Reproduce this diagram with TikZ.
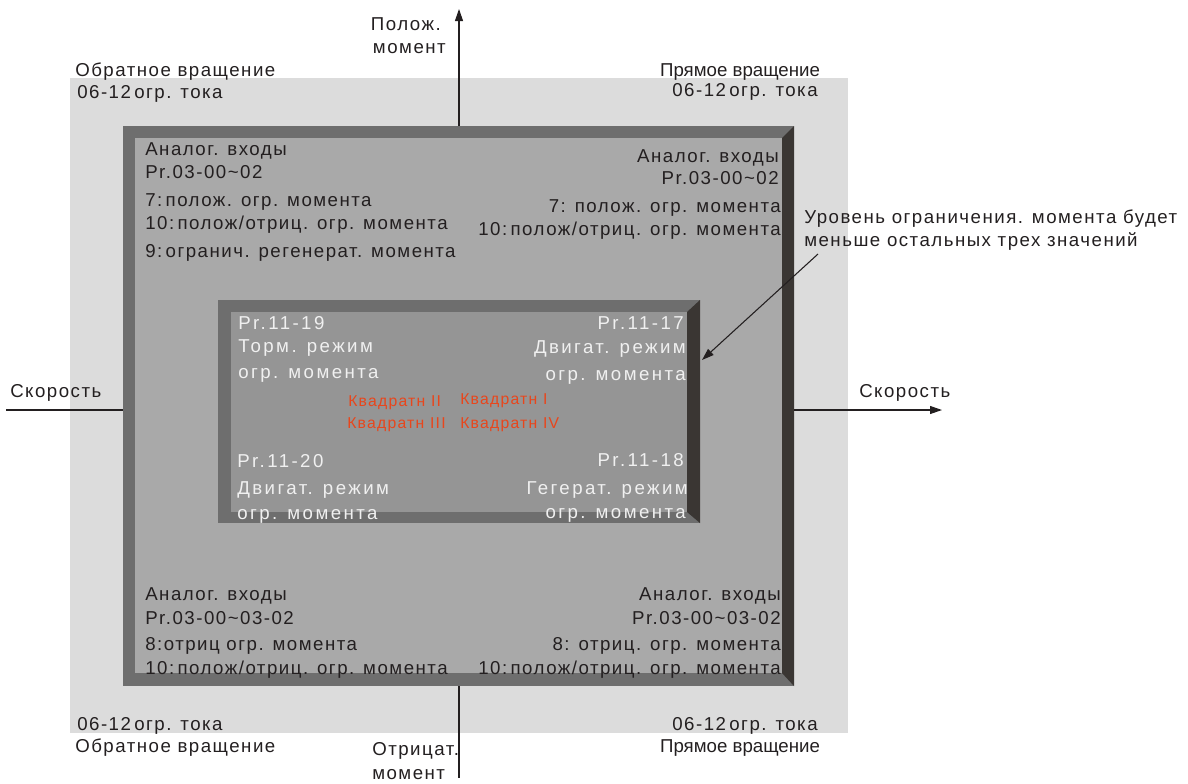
\documentclass[tikz,border=0pt]{standalone}
\usepackage{fontspec}
\setmainfont{Liberation Sans}[LetterSpace=8]
\usetikzlibrary{arrows.meta}
\definecolor{txt}{HTML}{231F20}
\definecolor{bglight}{HTML}{DCDCDC}
\definecolor{faceA}{HTML}{A9A9A9}
\definecolor{faceB}{HTML}{959595}
\definecolor{bevel}{HTML}{6E6E6E}
\definecolor{bevdark}{HTML}{3A3633}
\definecolor{quad}{HTML}{E8461C}
\tikzset{
  lbl/.style={inner sep=0pt, text=txt, font=\fontsize{14}{16}\selectfont},
  tight/.style={font=\fontsize{14}{16}\selectfont\addfontfeature{LetterSpace=0}},
  wl/.style={inner sep=0pt, text=white!94!black, font=\fontsize{14}{16}\selectfont\addfontfeature{LetterSpace=13}},
  ql/.style={inner sep=0pt, text=quad, font=\fontsize{11.8}{13}\selectfont},
  axis/.style={draw=txt, line width=0.8pt},
  arr/.style={-{Triangle[length=9pt,width=6pt]}}
}
\newcommand{\csp}{\kern2.5pt}
\begin{document}
\begin{tikzpicture}[x=0.75pt,y=-0.75pt]
\useasboundingbox (0,0) rectangle (1188,783);
% light background
\fill[bglight] (70,78) rectangle (848,733);
% outer beveled frame
\fill[bevel] (123,126) rectangle (794,686);
\fill[bevdark] (782,138) -- (794,126) -- (794,686) -- (782,673) -- cycle;
\fill[faceA] (135,138) rectangle (782,673);
% inner beveled frame
\fill[bevel] (218,300) rectangle (700,523);
\fill[bevdark] (687,312) -- (700,300) -- (700,523) -- (687,512) -- cycle;
\fill[faceB] (231,312) rectangle (687,512);

% axes
\coordinate (ytop) at (459,9);
\coordinate (yt0) at (459,126);
\coordinate (yb0) at (459,686);
\coordinate (ybot) at (459,778);
\coordinate (xl) at (6,410);
\coordinate (xl0) at (123,410);
\coordinate (xr0) at (794,410);
\coordinate (xr) at (942,410);
\draw[axis,arr] (yt0) -- (ytop);
\draw[axis] (yb0) -- (ybot);
\draw[axis] (xl) -- (xl0);
\draw[axis,arr] (xr0) -- (xr);

% axis labels
\node[lbl,anchor=base east] (pm1) at (441,30) {Полож.};
\node[lbl,anchor=base east] (pm2) at (446,53) {момент};
\node[lbl,anchor=base west] (om1) at (372,755) {Отрицат.};
\node[lbl,anchor=base west] (om2) at (372,779) {момент};
\node[lbl,anchor=base west] (sl) at (10,397) {Скорость};
\node[lbl,anchor=base west] (sr) at (859,397) {Скорость};

% corner labels
\node[lbl,anchor=base west] (tl1) at (75,76) {Обратное вращение};
\node[lbl,anchor=base west] (tl2) at (77,98) {06-12\csp огр. тока};
\node[lbl,tight,anchor=base] (tr1) at (740,76) {Прямое вращение};
\node[lbl,anchor=base] (tr2) at (745,96) {06-12\csp огр. тока};
\node[lbl,anchor=base west] (bl1) at (77,730) {06-12\csp огр. тока};
\node[lbl,anchor=base west] (bl2) at (75,752) {Обратное вращение};
\node[lbl,anchor=base] (br1) at (745,730) {06-12\csp огр. тока};
\node[lbl,tight,anchor=base] (br2) at (740,752) {Прямое вращение};

% outer frame texts
\node[lbl,anchor=base west] (a1) at (145,155) {Аналог. входы};
\node[lbl,anchor=base west] (a2) at (145,178) {Pr.03-00\char"7E 02};
\node[lbl,anchor=base west] (a3) at (145,206) {7:\csp полож. огр. момента};
\node[lbl,anchor=base west] (a4) at (145,229) {10:\csp полож/отриц. огр. момента};
\node[lbl,anchor=base west] (a5) at (145,257) {9:\csp огранич. регенерат. момента};

\node[lbl,anchor=base east] (b1) at (779,162) {Аналог. входы};
\node[lbl,anchor=base east] (b2) at (779,184) {Pr.03-00\char"7E 02};
\node[lbl,anchor=base east] (b3) at (781,212) {7: полож. огр. момента};
\node[lbl,anchor=base east] (b4) at (781,235) {10:\csp полож/отриц. огр. момента};

\node[lbl,anchor=base west] (c1) at (145,600) {Аналог. входы};
\node[lbl,anchor=base west] (c2) at (145,624) {Pr.03-00\char"7E 03-02};
\node[lbl,anchor=base west] (c3) at (145,650) {8:отриц огр. момента};
\node[lbl,anchor=base west] (c4) at (145,674) {10:\csp полож/отриц. огр. момента};

\node[lbl,anchor=base east] (d1) at (781,600) {Аналог. входы};
\node[lbl,anchor=base east] (d2) at (781,624) {Pr.03-00\char"7E 03-02};
\node[lbl,anchor=base east] (d3) at (781,650) {8: отриц. огр. момента};
\node[lbl,anchor=base east] (d4) at (781,674) {10:\csp полож/отриц. огр. момента};

% inner frame texts
\node[wl,anchor=base west] (e1) at (238,329) {Pr.11-19};
\node[wl,anchor=base west] (e2) at (238,352) {Торм. режим};
\node[wl,anchor=base west] (e3) at (238,378) {огр. момента};
\node[wl,anchor=base east] (f1) at (684,329) {Pr.11-17};
\node[wl,anchor=base east] (f2) at (686,353) {Двигат. режим};
\node[wl,anchor=base east] (f3) at (686,380) {огр. момента};
\node[wl,anchor=base west] (g1) at (237,467) {Pr.11-20};
\node[wl,anchor=base west] (g2) at (237,494) {Двигат. режим};
\node[wl,anchor=base west] (g3) at (237,519) {огр. момента};
\node[wl,anchor=base east] (h1) at (684,466) {Pr.11-18};
\node[wl,anchor=base east] (h2) at (688,494) {Гегерат. режим};
\node[wl,anchor=base east] (h3) at (686,518) {огр. момента};

% quadrants
\node[ql,anchor=base west] (q2) at (348,406) {Квадратн II};
\node[ql,anchor=base west] (q1) at (460,404) {Квадратн I};
\node[ql,anchor=base west] (q3) at (347,428) {Квадратн III};
\node[ql,anchor=base west] (q4) at (460,428) {Квадратн IV};

% annotation
\node[lbl,anchor=base west] (n1) at (804,223) {Уровень ограничения. момента будет};
\node[lbl,anchor=base west] (n2) at (804,246) {меньше остальных трех значений};
\coordinate (ntail) at (818,254);
\coordinate (ntip) at (702,360);
\draw[axis,arr] (ntail) -- (ntip);
\end{tikzpicture}
\end{document}
